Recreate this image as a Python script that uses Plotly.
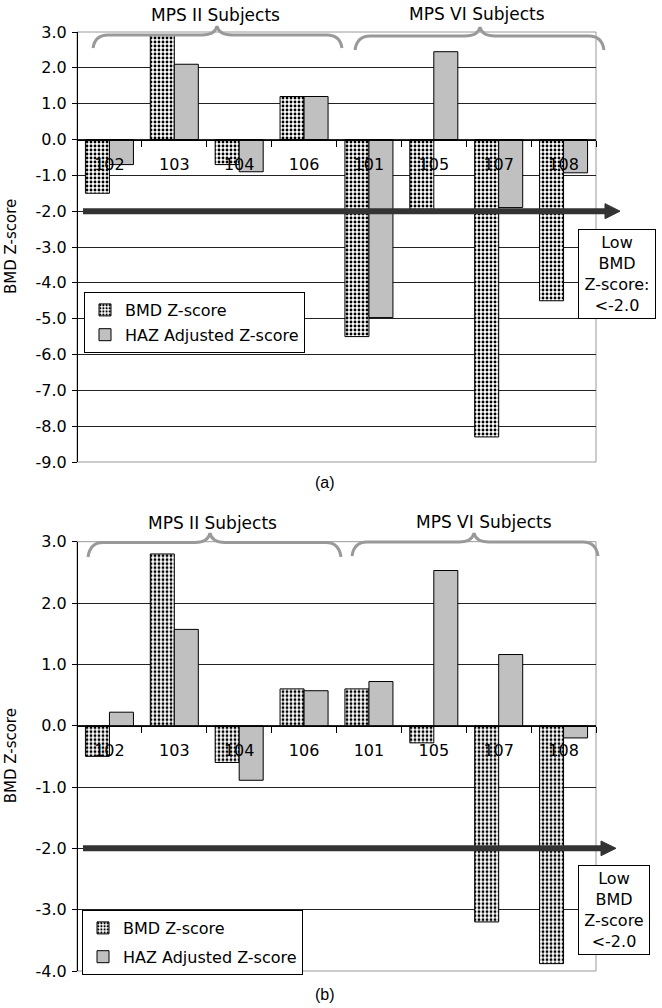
import plotly.graph_objects as go

subjects = ['102', '103', '104', '106', '101', '105', '107', '108']
bmd_a = [-1.5, 2.9, -0.7, 1.2, -5.5, -1.95, -8.3, -4.5]
haz_a = [-0.7, 2.1, -0.9, 1.2, -4.97, 2.45, -1.9, -0.93]
bmd_b = [-0.5, 2.8, -0.6, 0.6, 0.6, -0.28, -3.2, -3.88]
haz_b = [0.22, 1.57, -0.89, 0.57, 0.72, 2.53, 1.16, -0.2]
ticks_a = [3, 2, 1, 0, -1, -2, -3, -4, -5, -6, -7, -8, -9]
ticks_b = [3, 2, 1, 0, -1, -2, -3, -4]
series_names = ['BMD Z-score', 'HAZ Adjusted Z-score']
group_labels = ['MPS II Subjects', 'MPS VI Subjects']
low_text_a = 'Low<br>BMD<br>Z-score:<br><-2.0'
low_text_b = 'Low<br>BMD<br>Z-score<br><-2.0'

W, H = 662, 1008
# plot area in page pixels: x 77..596, y 32..971
PL, PR, PT, PB = 77, 596, 32, 971
PW, PH = PR - PL, PB - PT
FONT = 'DejaVu Sans'


def px(xp):
    return (xp - PL) / PW


def py(yp):
    return (PB - yp) / PH


dom_a = [py(462), 1.0]
dom_b = [0.0, py(541.7)]
rng_a = [-9, 3]
rng_b = [-4, 3]
zero_a = dom_a[0] + (0 - rng_a[0]) / (rng_a[1] - rng_a[0]) * (dom_a[1] - dom_a[0])
zero_b = dom_b[0] + (0 - rng_b[0]) / (rng_b[1] - rng_b[0]) * (dom_b[1] - dom_b[0])

pattern = dict(shape='.', size=4, solidity=0.4, fgcolor='black', bgcolor='white', fillmode='replace')

fig = go.Figure()
for xa, ya, bmd, haz, leg in [('x', 'y', bmd_a, haz_a, 'legend'), ('x2', 'y2', bmd_b, haz_b, 'legend2')]:
    fig.add_trace(go.Bar(x=subjects, y=bmd, name=series_names[0], xaxis=xa, yaxis=ya, legend=leg,
                         legendgroup=leg + 'a',
                         marker=dict(color='white', pattern=pattern, line=dict(color='black', width=1))))
    fig.add_trace(go.Bar(x=subjects, y=haz, name=series_names[1], xaxis=xa, yaxis=ya, legend=leg,
                         legendgroup=leg + 'b',
                         marker=dict(color='#c0c0c0', line=dict(color='black', width=1))))

xcommon = dict(type='category', domain=[0, 1], anchor='free', showline=True, linecolor='black', linewidth=1,
               ticks='outside', tickson='boundaries', ticklen=6, tickcolor='black', showgrid=False,
               tickfont=dict(family=FONT, size=16, color='black'), ticklabelstandoff=10)
ycommon = dict(anchor='free', position=0, showline=True, linecolor='black', linewidth=1, ticks='outside',
               ticklen=5, tickcolor='black', showgrid=True, gridcolor='#222',
               gridwidth=1, zeroline=False, tickfont=dict(family=FONT, size=16, color='black'),
               ticklabelstandoff=2, tickmode='array')

shapes = []
annotations = []

# plot area borders
for dom in (dom_a, dom_b):
    shapes.append(dict(type='rect', xref='paper', yref='paper', x0=0, x1=1, y0=dom[0], y1=dom[1],
                       line=dict(color='#999', width=1), layer='below'))


def brace(x0, x1, xm, yend, yh, ypk):
    r = 15
    pts = (f"M {px(x0)},{py(yend)} Q {px(x0 + 2)},{py(yh)} {px(x0 + r)},{py(yh)} "
           f"L {px(xm - r)},{py(yh)} Q {px(xm - 2)},{py(yh)} {px(xm)},{py(ypk)} "
           f"Q {px(xm + 2)},{py(yh)} {px(xm + r)},{py(yh)} L {px(x1 - r)},{py(yh)} "
           f"Q {px(x1 - 2)},{py(yh)} {px(x1)},{py(yend)}")
    return dict(type='path', xref='paper', yref='paper', path=pts, line=dict(color='#999', width=3),
                layer='above')


shapes += [brace(93, 342, 217, 48, 35, 26), brace(355, 604, 480, 50, 36, 27),
           brace(88, 341, 210, 557, 542.5, 533), brace(352, 598, 474, 556, 542, 533)]

# arrows at -2
for yref, tip, h in [('y', 620, 0.21), ('y2', 616, 0.12)]:
    base = tip - 15
    shapes.append(dict(type='line', xref='paper', yref=yref, x0=px(83), x1=px(base + 2), y0=-2, y1=-2,
                       line=dict(color='#333', width=6), layer='above'))
    shapes.append(dict(type='path', xref='paper', yref=yref,
                       path=f"M {px(base)},{-2 + h} L {px(tip)},-2 L {px(base)},{-2 - h} Z",
                       fillcolor='#333', line=dict(color='#333', width=1), layer='above'))

ann_c = dict(xref='paper', yref='paper', showarrow=False, xanchor='center', yanchor='middle')

# group labels
for (xc, yc), t in zip([(215, 15), (477, 14), (212, 523), (484, 522)], group_labels * 2):
    annotations.append(dict(ann_c, text=t, x=px(xc), y=py(yc), font=dict(family=FONT, size=17, color='black')))

# Low BMD boxes
annotations.append(dict(ann_c, text=low_text_a, x=px(617), y=py(274),
                        font=dict(family=FONT, size=16, color='black'), bgcolor='white', bordercolor='black',
                        borderwidth=1, width=74, height=86, align='center'))
annotations.append(dict(ann_c, text=low_text_b, x=px(614), y=py(910),
                        font=dict(family=FONT, size=16, color='black'), bgcolor='white', bordercolor='black',
                        borderwidth=1, width=68, height=86, align='center'))

# y titles
for dom in (dom_a, dom_b):
    annotations.append(dict(ann_c, text='BMD Z-score', x=px(11), y=(dom[0] + dom[1]) / 2,
                            textangle=-90, font=dict(family=FONT, size=15, color='black')))

# captions
annotations.append(dict(ann_c, text='(a)', x=px(325), y=py(482),
                        font=dict(family='Liberation Sans', size=16, color='black')))
annotations.append(dict(ann_c, text='(b)', x=px(325), y=py(995),
                        font=dict(family='Liberation Sans', size=16, color='black')))

legend_common = dict(xanchor='left', yanchor='top', bordercolor='black', borderwidth=1, bgcolor='white',
                     font=dict(family=FONT, size=16, color='black'))

fig.update_layout(
    width=W, height=H,
    margin=dict(l=PL, r=W - PR, t=PT, b=H - PB),
    paper_bgcolor='white', plot_bgcolor='white',
    barmode='group', bargap=0.26, bargroupgap=0,
    xaxis=dict(xcommon, position=zero_a),
    xaxis2=dict(xcommon, position=zero_b),
    yaxis=dict(ycommon, domain=dom_a, range=rng_a, tickvals=ticks_a, ticktext=[f'{v:.1f}' for v in ticks_a]),
    yaxis2=dict(ycommon, domain=dom_b, range=rng_b, tickvals=ticks_b, ticktext=[f'{v:.1f}' for v in ticks_b]),
    legend=dict(legend_common, x=px(84), y=py(292), tracegroupgap=1),
    legend2=dict(legend_common, x=px(82), y=py(910), tracegroupgap=5),
    shapes=shapes, annotations=annotations,
)

fig.write_html('out.html', config={'displayModeBar': False},
               post_script="document.body.style.margin='0';document.body.style.overflow='hidden';")
